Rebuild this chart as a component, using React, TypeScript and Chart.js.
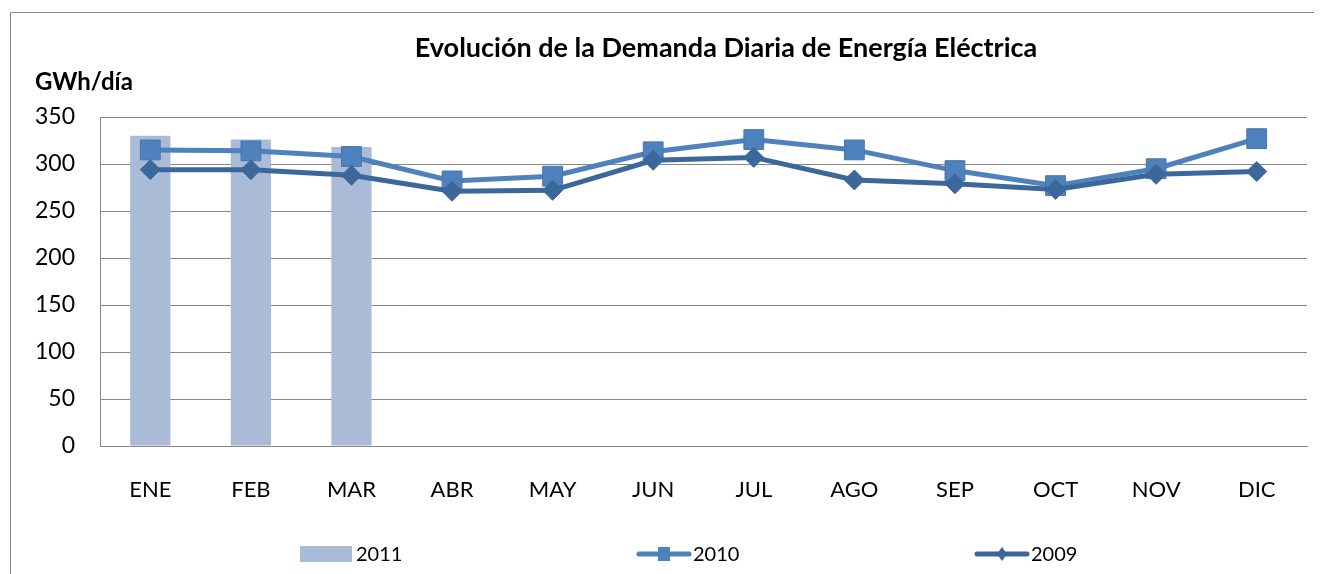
import React, { useEffect, useRef } from "react";
import { Chart, registerables } from "chart.js";

Chart.register(...registerables);

const months = ["ENE", "FEB", "MAR", "ABR", "MAY", "JUN", "JUL", "AGO", "SEP", "OCT", "NOV", "DIC"];
const values2011: (number | null)[] = [330, 326, 318, null, null, null, null, null, null, null, null, null];
const values2010 = [315, 314, 308, 282, 287, 313, 326, 315, 293, 277, 295, 327];
const values2009 = [294, 294, 288, 271, 272, 304, 307, 283, 279, 273, 289, 292];
const yTicks = [0, 50, 100, 150, 200, 250, 300, 350];

const chartTitle = "Evolución de la Demanda Diaria de Energía Eléctrica";
const yUnit = "GWh/día";

const FONT = "Lato, 'Noto Sans', sans-serif";
const C2011 = "rgb(170,187,216)";
const C2010 = "rgb(79,129,189)";
const C2009 = "rgb(60,103,155)";
const GRID = "rgb(134,134,134)";

const decorPlugin = {
  id: "decor",
  beforeDraw(chart: any) {
    const ctx = chart.ctx;
    ctx.save();
    ctx.strokeStyle = "rgb(134,134,134)";
    ctx.lineWidth = 1;
    ctx.beginPath();
    ctx.moveTo(2.5, chart.height);
    ctx.lineTo(2.5, 4.5);
    ctx.lineTo(chart.width, 4.5);
    ctx.stroke();
    ctx.restore();
  },
  afterDraw(chart: any) {
    const ctx = chart.ctx;
    ctx.save();
    ctx.fillStyle = "#000";
    ctx.textBaseline = "middle";
    ctx.font = `bold 27px ${FONT}`;
    ctx.textAlign = "center";
    ctx.fillText(chartTitle, 718, 40);
    ctx.font = `bold 24px ${FONT}`;
    ctx.textAlign = "left";
    ctx.fillText(yUnit, 27, 74);

    // legend
    const ly = 546;
    const items = chart.data.datasets;
    const xs = [292, 629, 967];
    ctx.font = `20px ${FONT}`;
    items.forEach((ds: any, i: number) => {
      const x = xs[i];
      if (ds.type === "bar") {
        ctx.fillStyle = ds.backgroundColor;
        ctx.fillRect(x, ly - 8, 52, 16);
      } else {
        ctx.strokeStyle = ds.borderColor;
        ctx.lineWidth = 5;
        ctx.lineCap = "round";
        ctx.beginPath();
        ctx.moveTo(x + 2, ly);
        ctx.lineTo(x + 52, ly);
        ctx.stroke();
        ctx.fillStyle = ds.borderColor;
        const cx = x + 27;
        if (ds.pointStyle === "rect") {
          ctx.fillRect(cx - 6, ly - 7, 12, 14);
        } else {
          ctx.beginPath();
          ctx.moveTo(cx, ly - 7);
          ctx.lineTo(cx + 5, ly);
          ctx.lineTo(cx, ly + 7);
          ctx.lineTo(cx - 5, ly);
          ctx.closePath();
          ctx.fill();
        }
      }
      ctx.fillStyle = "#000";
      ctx.textAlign = "left";
      ctx.fillText(ds.label, x + 56, ly + 1);
    });
    ctx.restore();
  },
};

export default function App() {
  const ref = useRef<HTMLCanvasElement | null>(null);
  useEffect(() => {
    if (!ref.current) return;
    const chart = new Chart(ref.current, {
      type: "bar",
      data: {
        labels: months,
        datasets: [
          {
            type: "bar",
            label: "2011",
            data: values2011,
            backgroundColor: C2011,
            barPercentage: 0.4,
            categoryPercentage: 1,
            order: 3,
          } as any,
          {
            type: "line",
            label: "2010",
            data: values2010,
            borderColor: C2010,
            backgroundColor: C2010,
            borderWidth: 5,
            pointStyle: "rect",
            pointRadius: 14,
            pointBorderWidth: 1,
            pointBackgroundColor: C2010,
            pointBorderColor: "rgb(70,118,176)",
            tension: 0,
            order: 2,
          },
          {
            type: "line",
            label: "2009",
            data: values2009,
            borderColor: C2009,
            backgroundColor: C2009,
            borderWidth: 5,
            pointStyle: "rectRot",
            pointRadius: 10,
            pointBorderWidth: 1,
            pointBackgroundColor: C2009,
            pointBorderColor: C2009,
            tension: 0,
            order: 1,
          },
        ],
      },
      options: {
        animation: false,
        responsive: false,
        maintainAspectRatio: false,
        layout: { padding: { left: 0, top: 109, right: 11, bottom: 0 } },
        plugins: {
          legend: { display: false },
          title: { display: false },
          tooltip: { enabled: false },
        },
        scales: {
          x: {
            offset: true,
            grid: { display: false, drawTicks: false },
            border: { display: true, color: GRID, width: 1 },
            ticks: { color: "#000", font: { family: FONT, size: 22 }, padding: 31 },
            afterFit: (s: any) => {
              s.height = 128;
            },
          },
          y: {
            min: 0,
            max: 350,
            afterBuildTicks: (s: any) => {
              s.ticks = yTicks.map((v) => ({ value: v }));
            },
            grid: { color: GRID, lineWidth: 1, drawTicks: false },
            border: { display: true, color: GRID, width: 1 },
            ticks: { color: "#000", font: { family: FONT, size: 23 }, padding: 25 },
            afterFit: (s: any) => {
              s.width = 92;
            },
          },
        },
      },
      plugins: [decorPlugin],
    });
    return () => chart.destroy();
  }, []);
  return (
    <div style={{ width: 1314, height: 566 }}>
      <canvas ref={ref} width={1314} height={566} style={{ display: "block" }} />
    </div>
  );
}
